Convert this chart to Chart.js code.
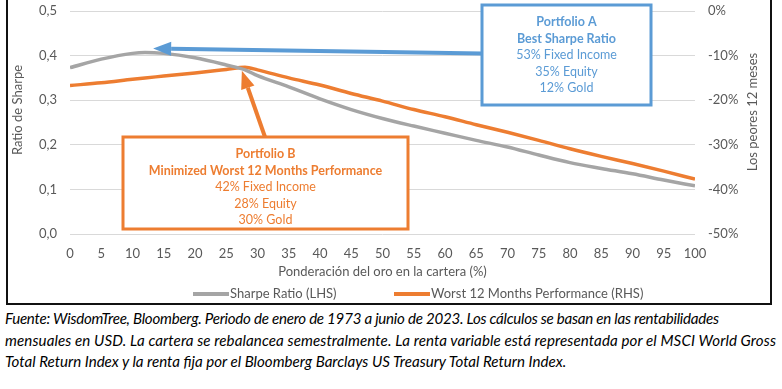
<!DOCTYPE html>
<html>
<head>
<meta charset="utf-8">
<script src="https://cdn.jsdelivr.net/npm/chart.js@4.4.0/dist/chart.umd.min.js"></script>
<style>
  body { margin: 0; background: #fff; width: 782px; height: 389px; overflow: hidden; position: relative; }
  #frame { position: absolute; left: 6px; top: -2px; width: 766px; height: 307px; border: 2px solid #111; box-sizing: border-box; }
  #wrap { position: absolute; left: 0; top: 0; width: 762px; height: 303px; }
  #note { position: absolute; left: 5px; top: 308px; font-family: Lato, sans-serif; font-style: italic; font-size: 15.1px; line-height: 21.5px; color: #000; white-space: nowrap; }
  #note .l1 { letter-spacing: -0.25px; }
  #note .l2 { letter-spacing: 0.1px; }
</style>
</head>
<body>
<div id="frame"><div id="wrap"><canvas id="sharpeChart"></canvas></div></div>
<div id="note"><span class="l1">Fuente: WisdomTree, Bloomberg. Periodo de enero de 1973 a junio de 2023. Los cálculos se basan en las rentabilidades</span><br><span class="l2">mensuales en USD. La cartera se rebalancea semestralmente. La renta variable está representada por el MSCI World Gross</span><br>Total Return Index y la renta fija por el Bloomberg Barclays US Treasury Total Return Index.</div>
<script>
// gold weight in portfolio (%)
const goldWeights = [0, 5, 10, 12, 15, 20, 25, 28, 30, 35, 40, 45, 50, 55, 60, 65, 70, 75, 80, 85, 90, 95, 100];
// Sharpe ratio (LHS)
const sharpeRatio = [0.373, 0.392, 0.405, 0.407, 0.405, 0.395, 0.379, 0.368, 0.355, 0.330, 0.303, 0.279, 0.259, 0.242, 0.226, 0.210, 0.195, 0.177, 0.160, 0.147, 0.135, 0.121, 0.108];
// worst 12 months performance in % (RHS)
const worst12m = [-16.7, -16.1, -15.3, -15.0, -14.6, -13.9, -13.1, -12.6, -13.2, -15.0, -16.6, -18.5, -20.2, -22.1, -23.7, -25.5, -27.2, -29.0, -30.9, -32.6, -34.2, -35.9, -37.7];
const xTicks = [0, 5, 10, 15, 20, 25, 30, 35, 40, 45, 50, 55, 60, 65, 70, 75, 80, 85, 90, 95, 100];
const leftTicks = [0, 0.1, 0.2, 0.3, 0.4, 0.5];
const rightTicks = [-50, -40, -30, -20, -10, 0];

const portfolioA = ['Portfolio A', 'Best Sharpe Ratio', '53% Fixed Income', '35% Equity', '12% Gold'];
const portfolioB = ['Portfolio B', 'Minimized Worst 12 Months Performance', '42% Fixed Income', '28% Equity', '30% Gold'];

const grey = '#A5A5A5';
const orange = '#ED7D31';
const blue = '#5B9BD5';
const tickColor = '#595959';
const font = 'Lato, sans-serif';

function arrow(ctx, x1, y1, x2, y2, color) {
    const ang = Math.atan2(y2 - y1, x2 - x1);
    const headLen = 18, headW = 7;
    const bx = x2 - headLen * Math.cos(ang), by = y2 - headLen * Math.sin(ang);
    ctx.strokeStyle = color;
    ctx.fillStyle = color;
    ctx.lineWidth = 4;
    ctx.beginPath();
    ctx.moveTo(x1, y1);
    ctx.lineTo(bx, by);
    ctx.stroke();
    ctx.beginPath();
    ctx.moveTo(x2, y2);
    ctx.lineTo(bx + headW * Math.sin(ang), by - headW * Math.cos(ang));
    ctx.lineTo(bx - headW * Math.sin(ang), by + headW * Math.cos(ang));
    ctx.closePath();
    ctx.fill();
}

function textBox(ctx, box, lines, color) {
    ctx.fillStyle = '#fff';
    ctx.fillRect(box.x, box.y, box.w, box.h);
    ctx.strokeStyle = color;
    ctx.lineWidth = 3;
    ctx.strokeRect(box.x, box.y, box.w, box.h);
    ctx.fillStyle = color;
    ctx.textAlign = 'center';
    ctx.textBaseline = 'middle';
    lines.forEach(function (t, i) {
        ctx.font = (i < 2 ? 'bold ' : '') + '12.5px ' + font;
        ctx.fillText(t, box.x + box.w / 2, box.y + 17 + i * 16.5);
    });
}

const annotations = {
    id: 'annotations',
    afterDatasetsDraw(chart) {
        const ctx = chart.ctx;
        const xs = chart.scales.x, yl = chart.scales.yL, yr = chart.scales.yR;
        const area = chart.chartArea;
        ctx.save();

        // axis titles (both read bottom to top)
        ctx.fillStyle = tickColor;
        ctx.font = '13px ' + font;
        ctx.textAlign = 'center';
        ctx.textBaseline = 'middle';
        ctx.save();
        ctx.translate(10, 110);
        ctx.rotate(-Math.PI / 2);
        ctx.fillText('Ratio de Sharpe', 0, 0);
        ctx.restore();
        ctx.save();
        ctx.translate(area.right + 58, 112);
        ctx.rotate(-Math.PI / 2);
        ctx.fillText('Los peores 12 meses', 0, 0);
        ctx.restore();

        // legend
        const legendX = [185, 386];
        const legendY = 294;
        ctx.textAlign = 'left';
        chart.data.datasets.forEach(function (ds, i) {
            ctx.fillStyle = ds.borderColor;
            ctx.fillRect(legendX[i], legendY - 2, 36, 4);
            ctx.fillStyle = tickColor;
            ctx.fillText(ds.label, legendX[i] + 37, legendY);
        });

        // Portfolio A
        const boxA = { x: 474, y: 5, w: 169, h: 100 };
        arrow(ctx, boxA.x, 53.5, xs.getPixelForValue(13.3), yl.getPixelForValue(0.416), blue);
        textBox(ctx, boxA, portfolioA, blue);

        // Portfolio B
        const boxB = { x: 115, y: 137, w: 285, h: 92 };
        arrow(ctx, 257, boxB.y, xs.getPixelForValue(27.5), yr.getPixelForValue(-13.4), orange);
        textBox(ctx, boxB, portfolioB, orange);
        ctx.restore();
    }
};

new Chart(document.getElementById('sharpeChart'), {
    type: 'line',
    data: {
        datasets: [{
            label: 'Sharpe Ratio (LHS)',
            data: goldWeights.map((x, i) => ({ x: x, y: sharpeRatio[i] })),
            borderColor: grey,
            backgroundColor: grey,
            borderWidth: 3.5,
            pointRadius: 0,
            cubicInterpolationMode: 'monotone',
            yAxisID: 'yL'
        }, {
            label: 'Worst 12 Months Performance (RHS)',
            data: goldWeights.map((x, i) => ({ x: x, y: worst12m[i] })),
            borderColor: orange,
            backgroundColor: orange,
            borderWidth: 3.5,
            pointRadius: 0,
            cubicInterpolationMode: 'monotone',
            yAxisID: 'yR'
        }]
    },
    options: {
        responsive: true,
        maintainAspectRatio: false,
        animation: false,
        layout: { padding: { top: 11, bottom: 0 } },
        plugins: {
            tooltip: { enabled: false },
            legend: { display: false }
        },
        scales: {
            x: {
                type: 'linear',
                min: 0,
                max: 100,
                afterBuildTicks: s => { s.ticks = xTicks.map(v => ({ value: v })); },
                afterFit: s => { s.height = 69; },
                grid: { display: false },
                border: { display: false },
                ticks: { color: tickColor, font: { family: font, size: 13 }, padding: 4, maxRotation: 0, autoSkip: false },
                title: { display: true, text: 'Ponderación del oro en la cartera (%)', color: tickColor, font: { family: font, size: 13 }, padding: { top: 2, bottom: 23 } }
            },
            yL: {
                position: 'left',
                min: 0,
                max: 0.5,
                afterBuildTicks: s => { s.ticks = leftTicks.map(v => ({ value: v })); },
                afterFit: s => { s.width = 62; s.paddingTop = 0; s.paddingBottom = 0; },
                grid: { color: '#D9D9D9', lineWidth: 1, drawTicks: false },
                border: { display: false },
                ticks: { color: tickColor, font: { family: font, size: 13 }, padding: 13, callback: v => v.toFixed(1).replace('.', ',') }
            },
            yR: {
                position: 'right',
                min: -50,
                max: 0,
                afterBuildTicks: s => { s.ticks = rightTicks.map(v => ({ value: v })); },
                afterFit: s => { s.width = 75; s.paddingTop = 0; s.paddingBottom = 0; },
                grid: { display: false, drawTicks: false },
                border: { display: false },
                ticks: { color: tickColor, font: { family: font, size: 13 }, padding: 13, callback: v => v + '%' }
            }
        }
    },
    plugins: [annotations]
});
</script>
</body>
</html>
